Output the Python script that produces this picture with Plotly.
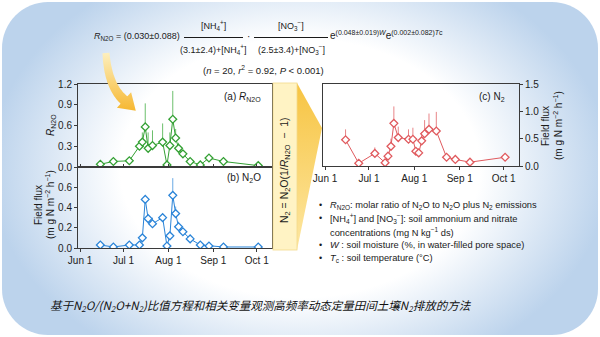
import base64
import numpy as np
import plotly.graph_objects as go

W, H = 600, 337
FONT = "Liberation Sans, Arial, sans-serif"

# ---- observation data ----
dates = ["2015-06-15", "2015-06-24", "2015-07-05", "2015-07-12", "2015-07-14",
         "2015-07-16", "2015-07-18", "2015-07-21", "2015-07-28", "2015-07-31",
         "2015-08-02", "2015-08-04", "2015-08-06", "2015-08-08", "2015-08-11",
         "2015-08-16", "2015-08-23", "2015-08-29", "2015-09-08", "2015-10-02"]

r_n2o = [0.04, 0.08, 0.09, 0.30, 0.36, 0.58, 0.27, 0.31, 0.36, 0.03,
         0.31, 0.69, 0.42, 0.27, 0.19, 0.08, 0.03, 0.13, 0.08, 0.02]
r_n2o_err = [0, 0, 0, 0, 0.14, 0.34, 0.23, 0.22, 0.27, 0,
             0.19, 0.41, 0.13, 0.08, 0, 0, 0, 0.04, 0, 0]

n2o_flux = [0.03, 0.01, 0.03, 0.03, 0.10, 0.48, 0.29, 0.24, 0.30, 0.02,
            0.12, 0.52, 0.34, 0.21, 0.16, 0.09, 0.03, 0.02, 0.01, 0.01]
n2o_err = [0, 0, 0, 0, 0, 0, 0, 0.06, 0, 0,
           0, 0.17, 0.07, 0.05, 0, 0, 0, 0, 0, 0]

n2_flux = [0.48, 0.05, 0.23, 0.06, 0.18, 0.36, 0.78, 0.52, 0.49, 0.49,
           0.27, 0.24, 0.46, 0.59, 0.67, 0.64, 0.16, 0.12, 0.07, 0.16]
n2_err = [0.19, 0, 0.11, 0, 0.07, 0.14, 0.31, 0.20, 0.18, 0.21,
          0, 0, 0.16, 0.25, 0.29, 0.35, 0, 0, 0, 0]

month_ticks = ["2015-06-01", "2015-07-01", "2015-08-01", "2015-09-01", "2015-10-01"]
month_labels = ["Jun 1", "Jul 1", "Aug 1", "Sep 1", "Oct 1"]
x_range = ["2015-05-30 14:00", "2015-10-11 12:00"]

GREEN, BLUE, RED = "#33a033", "#2a84d8", "#e05a5e"


def px(x):
    return x / W


def py(y):
    return 1 - y / H


# ---- background panel with soft blue vignette ----
bg_svg = f"""<svg xmlns="http://www.w3.org/2000/svg" width="{W}" height="{H}" viewBox="0 0 {W} {H}">
<defs>
<radialGradient id="vg" gradientUnits="userSpaceOnUse" cx="300" cy="168" r="310"
 gradientTransform="translate(300 168) scale(1 0.72) translate(-300 -168)">
<stop offset="0" stop-color="#ffffff"/>
<stop offset="0.58" stop-color="#ffffff"/>
<stop offset="1" stop-color="#bcd3ec"/>
</radialGradient>
</defs>
<rect width="{W}" height="{H}" fill="#ffffff"/>
<rect x="2" y="2" width="596" height="333" rx="46" ry="46" fill="url(#vg)"/>
</svg>"""


# ---- curved pointer arrow and the conversion banner ----
def bezier(p0, c, p1, t):
    return ((1 - t) ** 2)[:, None] * p0 + (2 * (1 - t) * t)[:, None] * c + (t ** 2)[:, None] * p1


p0, c1, p1 = np.array([106.0, 53.0]), np.array([108.0, 86.0]), np.array([124.0, 100.0])
t = np.linspace(0, 1, 30)
pts = bezier(p0, c1, p1, t)
d = np.gradient(pts, axis=0)
d /= np.linalg.norm(d, axis=1)[:, None]
nrm = np.stack([-d[:, 1], d[:, 0]], axis=1)
half = np.linspace(3.5, 5.0, len(t))
left = pts + nrm * half[:, None]
right = pts - nrm * half[:, None]
tip_dir = d[-1]
tip_n = nrm[-1]
head_a = p1 + tip_n * 10.5
head_b = p1 - tip_n * 10.5
tip = p1 + tip_dir * 16
poly = list(left) + [head_a, tip, head_b] + list(right[::-1])
arrow_path = "M" + " L".join(f"{a:.1f},{b:.1f}" for a, b in poly) + " Z"

fg_svg = f"""<svg xmlns="http://www.w3.org/2000/svg" width="{W}" height="{H}" viewBox="0 0 {W} {H}">
<defs>
<linearGradient id="ag" gradientUnits="userSpaceOnUse" x1="0" y1="52" x2="0" y2="112">
<stop offset="0" stop-color="#fdf0c0"/>
<stop offset="1" stop-color="#f6b62e"/>
</linearGradient>
<linearGradient id="tg" gradientUnits="userSpaceOnUse" x1="0" y1="83" x2="0" y2="250">
<stop offset="0" stop-color="#f7c442"/>
<stop offset="1" stop-color="#fde7a2"/>
</linearGradient>
</defs>
<path d="{arrow_path}" fill="url(#ag)"/>
<polygon points="297,83 322,128 297,250" fill="url(#tg)"/>
<rect x="273" y="83" width="24" height="167" fill="#fff3c4" stroke="#f2d98c" stroke-width="0.8"/>
</svg>"""


def svg_uri(s):
    return "data:image/svg+xml;base64," + base64.b64encode(s.encode()).decode()


fig = go.Figure()


def add_series(y, err, color, err_color, xa, ya):
    fig.add_trace(go.Scatter(
        x=dates, y=y, mode="lines+markers", xaxis=xa, yaxis=ya,
        line=dict(color=color, width=1),
        marker=dict(symbol="diamond", size=6, color="white",
                    line=dict(color=color, width=1.3)),
        error_y=dict(type="data", array=err, arrayminus=[0] * len(err),
                     symmetric=False, thickness=1, width=0, color=err_color),
        showlegend=False, hoverinfo="x+y"))


add_series(r_n2o, r_n2o_err, GREEN, "#6cbf6c", "x", "y")
add_series(n2o_flux, n2o_err, BLUE, "#6aaae4", "x2", "y2")
add_series(n2_flux, n2_err, RED, "#e88588", "x3", "y3")

axis_line = dict(showline=True, linecolor="#3a3a3a", linewidth=1, mirror=True,
                 ticks="outside", ticklen=3, tickwidth=1, tickcolor="#3a3a3a",
                 showgrid=False, zeroline=False, automargin=False,
                 tickfont=dict(family=FONT, size=10, color="#222222"))

xa_common = dict(axis_line, type="date", range=x_range, tickmode="array",
                 tickvals=month_ticks, ticktext=month_labels)

fig.update_layout(
    xaxis=dict(xa_common, domain=[px(78), px(272)], anchor="y",
               showticklabels=False, ticks="inside"),
    yaxis=dict(axis_line, domain=[py(167), py(84)], anchor="x", range=[0, 1.2],
               tickmode="array", tickvals=[0, 0.3, 0.6, 0.9, 1.2], tickformat=".1f"),
    xaxis2=dict(xa_common, domain=[px(78), px(272)], anchor="y2"),
    yaxis2=dict(axis_line, domain=[py(248), py(167)], anchor="x2", range=[0, 0.8],
                tickmode="array", tickvals=[0, 0.2, 0.4, 0.6], tickformat=".1f"),
    xaxis3=dict(xa_common, domain=[px(323), px(519)], anchor="y3"),
    yaxis3=dict(axis_line, domain=[py(166), py(84)], anchor="x3", range=[0, 1.5],
                side="right", tickmode="array", tickvals=[0, 0.5, 1.0, 1.5],
                tickformat=".1f"),
)

anns = []


def text(x, y, s, size=10, anchor="center", angle=0, color="#1a1a1a", family=FONT):
    anns.append(dict(x=px(x), y=py(y), xref="paper", yref="paper", text=s,
                     showarrow=False, xanchor=anchor, yanchor="middle",
                     textangle=angle, font=dict(family=family, size=size, color=color)))


# regression equation
text(182, 36, "<i>R</i><sub>N2O</sub> = (0.030±0.088)", size=9, anchor="right")
text(213, 25, "[NH<sub>4</sub><sup>+</sup>]", size=9)
text(213, 49, "(3.1±2.4)+[NH<sub>4</sub><sup>+</sup>]", size=9)
text(248, 36, "·", size=10)
text(291, 25, "[NO<sub>3</sub><sup>−</sup>]", size=9)
text(291, 49, "(2.5±3.4)+[NO<sub>3</sub><sup>−</sup>]", size=9)
text(328, 35, "e<sup>(0.048±0.019)<i>W</i></sup>e<sup>(0.002±0.082)<i>T</i>c</sup>",
     size=10, anchor="left")
text(263, 70, "(<i>n</i> = 20, <i>r</i><sup>2</sup> = 0.92, <i>P</i> &lt; 0.001)", size=9.5)

# axis titles and panel labels
text(51, 125, "<i>R</i><sub>N2O</sub>", size=10, angle=-90)
text(38, 205, "Field flux", size=10, angle=-90)
text(50, 205, "(m g N m<sup>−2</sup> h<sup>−1</sup>)", size=10, angle=-90)
text(545, 126, "Field flux", size=10, angle=-90)
text(558, 126, "(m g N m<sup>−2</sup> h<sup>−1</sup>)", size=10, angle=-90)
text(263, 97, "(a) <i>R</i><sub>N2O</sub>", size=10, anchor="right")
text(263, 178, "(b) N<sub>2</sub>O", size=10, anchor="right")
text(507, 97, "(c) N<sub>2</sub>", size=10, anchor="right")

# conversion formula on the banner
text(285, 170, "N<sub>2</sub> = N<sub>2</sub>O(1/<i>R</i><sub>N2O</sub>  −  1)", size=10.5, angle=-90)

# variable definitions
bullets = [
    (205, "<i>R</i><sub>N2O</sub>: molar ratio of N<sub>2</sub>O to N<sub>2</sub>O plus N<sub>2</sub> emissions", True),
    (218, "[NH<sub>4</sub><sup>+</sup>] and [NO<sub>3</sub><sup>−</sup>]: soil ammonium and nitrate", True),
    (232, "concentrations (mg N kg<sup>−1</sup> ds)", False),
    (245, "<i>W</i> : soil moisture (%, in water-filled pore space)", True),
    (258, "<i>T</i><sub>c</sub> : soil temperature (°C)", True),
]
for yy, s, dot in bullets:
    if dot:
        text(320, yy, "•", size=9)
    text(328, yy, s, size=9.3, anchor="left")

# caption
text(48, 305, "<i>基于N<sub>2</sub>O/(N<sub>2</sub>O+N<sub>2</sub>)比值方程和相关变量观测高频率动态定量田间土壤N<sub>2</sub>排放的方法</i>",
     size=11.5, anchor="left", family="Noto Sans CJK SC, sans-serif", color="#111111")

shapes = [
    dict(type="line", xref="paper", yref="paper", x0=px(184), x1=px(243),
         y0=py(37.5), y1=py(37.5), line=dict(color="#1a1a1a", width=1)),
    dict(type="line", xref="paper", yref="paper", x0=px(254), x1=px(328),
         y0=py(37.5), y1=py(37.5), line=dict(color="#1a1a1a", width=1)),
]

fig.update_layout(
    width=W, height=H, margin=dict(l=0, r=0, t=0, b=0),
    template="none", paper_bgcolor="white", plot_bgcolor="white",
    font=dict(family=FONT, size=10, color="#1a1a1a"),
    showlegend=False, annotations=anns, shapes=shapes,
    images=[
        dict(source=svg_uri(bg_svg), xref="paper", yref="paper", x=0, y=1,
             sizex=1, sizey=1, xanchor="left", yanchor="top", sizing="stretch",
             layer="below"),
        dict(source=svg_uri(fg_svg), xref="paper", yref="paper", x=0, y=1,
             sizex=1, sizey=1, xanchor="left", yanchor="top", sizing="stretch",
             layer="above"),
    ],
)

fig.write_html("out.html")
